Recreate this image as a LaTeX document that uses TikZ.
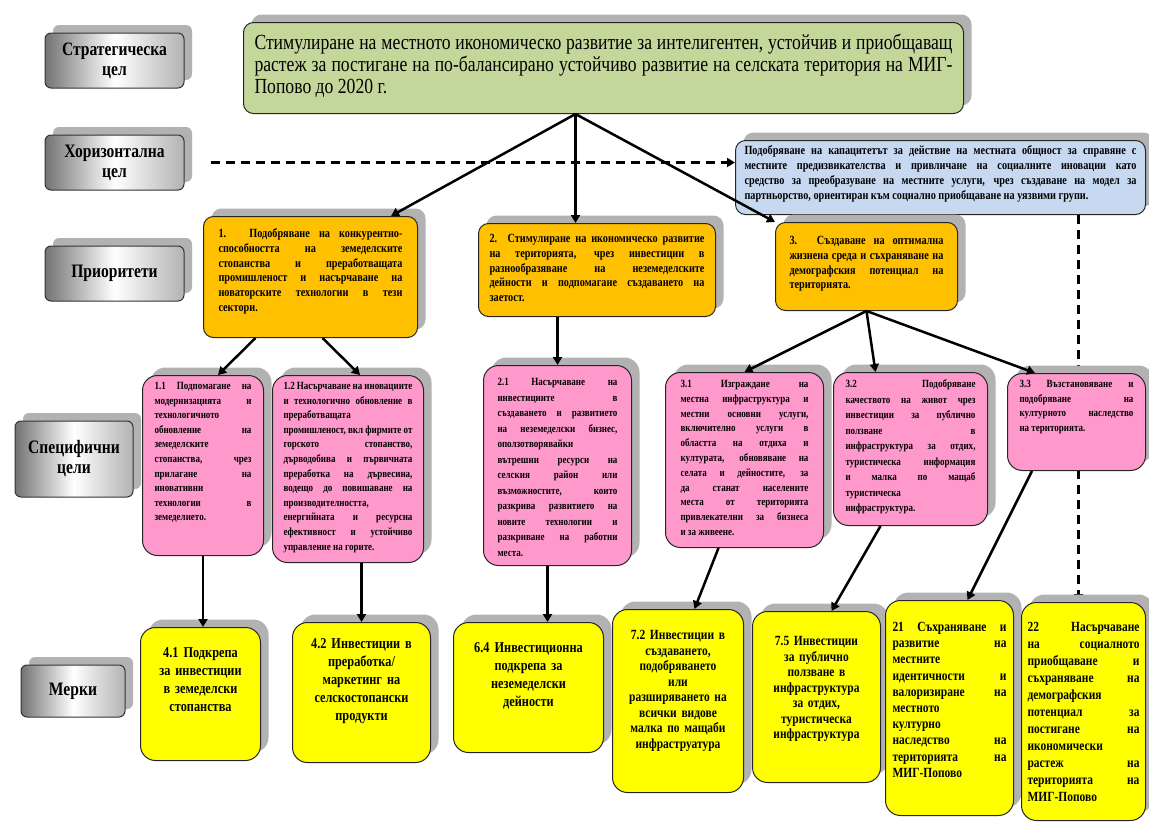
\documentclass[tikz,border=0pt]{standalone}
\usepackage{fontspec}
\setmainfont[FakeStretch=0.82]{Liberation Serif}
\usetikzlibrary{shadows,arrows.meta,backgrounds}
\tolerance=9999 \emergencystretch=8pt \hbadness=10000 \hfuzz=3pt

\definecolor{strgreen}{HTML}{C4D79B}
\definecolor{horblue}{HTML}{C6D9F1}
\definecolor{prorange}{HTML}{FFC000}
\definecolor{goalpink}{HTML}{FF99CC}
\definecolor{measyellow}{HTML}{FFFF00}

\tikzset{every picture/.style={line width=0.5pt}}
\tikzset{
  shade box/.style={general shadow={fill=black!30, shadow xshift=8pt, shadow yshift=8pt}},
  lbl/.style={shade box, draw=black!80, line width=1pt, rounded corners=6pt,
    left color=black!55, right color=black!30, middle color=white,
    minimum width=139pt, minimum height=55pt, align=center,
    font=\fontsize{19}{20}\selectfont\bfseries},
  card/.style={shade box, draw=black!85, line width=1pt, anchor=north west, inner ysep=0pt},
  strbox/.style={card, fill=strgreen, rounded corners=10pt, align=justify,
    font=\fontsize{21.5}{22}\selectfont},
  horbox/.style={card, fill=horblue, rounded corners=10pt, align=justify,
    font=\fontsize{12.5}{15}\selectfont\bfseries},
  prbox/.style={card, fill=prorange, rounded corners=10pt, align=justify,
    font=\fontsize{12.5}{14.8}\selectfont\bfseries},
  goalbox/.style={card, fill=goalpink, rounded corners=15pt, align=justify,
    font=\fontsize{11}{14.6}\selectfont\bfseries},
  measbox/.style={card, fill=measyellow, rounded corners=15pt, align=center,
    font=\fontsize{15}{18}\selectfont\bfseries},
  link/.style={line width=2.5pt, -{Triangle[length=8pt,width=9pt]}},
  dlink/.style={link, dash pattern=on 9pt off 6pt}
}

\begin{document}
\begin{tikzpicture}[x=1pt,y=1pt,yscale=-1]
    \useasboundingbox (0,0) rectangle (1149,827);

    % row labels
    \node[lbl] (lstrat) at (114.5,60.5) {Стратегическа\\цел};
    \node[lbl] (lhor) at (114.5,162.5) {Хоризонтална\\цел};
    \node[lbl] (lprior) at (114.5,273.5) {Приоритети};
    \node[lbl, minimum width=118pt, minimum height=76pt] (lspec) at (74,459) {Специфични\\цели};
    \node[lbl, minimum width=104pt, minimum height=52pt] (lmeas) at (73,691) {Мерки};

    % strategic and horizontal goal
    \node[strbox, text width=698pt, inner xsep=11pt, text height=27pt, text depth=64pt] (green) at (243,22)
      {Стимулиране на местното икономическо развитие за интелигентен, устойчив и приобщаващ\linebreak растеж за постигане на по-балансирано устойчиво развитие на селската територия на МИГ-\linebreak Попово до 2020 г.};
    \node[horbox, text width=392pt, inner xsep=9pt, text height=14pt, text depth=60pt] (blue) at (735,140)
      {Подобряване на капацитетът за действие на местната общност за справяне с\linebreak местните предизвикателства и привличане на социалните иновации като\linebreak средство за преобразуване на местните услуги, чрез създаване на модел за\linebreak партньорство, ориентиран към социално приобщаване на уязвими групи.};

    % priorities
    \node[prbox, text width=184pt, inner xsep=15pt, text height=21pt, text depth=100pt] (p1) at (203,216)
      {1. Подобряване на конкурентно-\linebreak способността на земеделските\linebreak стопанства и преработващата\linebreak промишленост и насърчаване на\linebreak новаторските технологии в тези\linebreak сектори.};
    \node[prbox, text width=215pt, inner xsep=11pt, text height=19pt, text depth=74pt] (p2) at (478,223)
      {2. Стимулиране на икономическо развитие\linebreak на територията, чрез инвестиции в\linebreak разнообразяване на неземеделските\linebreak дейности и подпомагане създаването на\linebreak заетост.};
    \node[prbox, text width=154pt, inner xsep=14pt, text height=22pt, text depth=66pt] (p3) at (775,222)
      {3. Създаване на оптимална\linebreak жизнена среда и съхраняване на\linebreak демографския потенциал на\linebreak територията.};

    % specific goals
    \node[goalbox, text width=97pt, inner xsep=12pt, text height=14pt, text depth=166pt] (s11) at (142,375)
      {1.1 Подпомагане на\linebreak модернизацията и\linebreak технологичното\linebreak обновление на\linebreak земеделските\linebreak стопанства, чрез\linebreak прилагане на\linebreak иновативни\linebreak технологии в\linebreak земеделието.};
    \node[goalbox, text width=129pt, inner xsep=11pt, text height=14pt, text depth=173pt] (s12) at (272,375)
      {1.2 Насърчаване на иновациите\linebreak и технологично обновление в\linebreak преработващата\linebreak промишленост, вкл фирмите от\linebreak горското стопанство,\linebreak дърводобива и първичната\linebreak преработка на дървесина,\linebreak водещо до повишаване на\linebreak производителността,\linebreak енергийната и ресурсна\linebreak ефективност и устойчиво\linebreak управление на горите.};
    \node[goalbox, font=\fontsize{11}{15.5}\selectfont\bfseries, text width=120pt, inner xsep=14pt, text height=20pt, text depth=180pt] (s21) at (483,365)
      {2.1 Насърчаване на\linebreak инвестициите в\linebreak създаването и развитието\linebreak на неземеделски бизнес,\linebreak оползотворявайки\linebreak вътрешни ресурси на\linebreak селския район или\linebreak възможностите, които\linebreak разкрива развитието на\linebreak новите технологии и\linebreak разкриване на работни\linebreak места.};
    \node[goalbox, font=\fontsize{11}{14.8}\selectfont\bfseries, text width=128pt, inner xsep=15pt, text height=15pt, text depth=160pt] (s31) at (665,372)
      {3.1 Изграждане на\linebreak местна инфраструктура и\linebreak местни основни услуги,\linebreak включително услуги в\linebreak областта на отдиха и\linebreak културата, обновяване на\linebreak селата и дейностите, за\linebreak да станат населените\linebreak места от територията\linebreak привлекателни за бизнеса\linebreak и за живеене.};
    \node[goalbox, font=\fontsize{11}{15.5}\selectfont\bfseries, text width=130pt, inner xsep=12pt, text height=15pt, text depth=138pt] (s32) at (833,372)
      {3.2 Подобряване\linebreak качеството на живот чрез\linebreak инвестиции за публично\linebreak ползване в\linebreak инфраструктура за отдих,\linebreak туристическа информация\linebreak и малка по мащаб\linebreak туристическа\linebreak инфраструктура.};
    \node[goalbox, text width=114pt, inner xsep=12pt, text height=14pt, text depth=83pt] (s33) at (1007,373)
      {3.3 Възстановяване и\linebreak подобряване на\linebreak културното наследство\linebreak на територията.};

    % measures
    \node[measbox, text width=100pt, inner xsep=10pt, text height=30pt, text depth=103pt] (m41) at (140,627)
      {4.1 Подкрепа\\за инвестиции\\в земеделски\\стопанства};
    \node[measbox, text width=118pt, inner xsep=10pt, text height=26pt, text depth=114pt] (m42) at (292,622)
      {4.2 Инвестиции в\\преработка/\\маркетинг на\\селскостопански\\продукти};
    \node[measbox, text width=130pt, inner xsep=10pt, text height=30pt, text depth=100pt] (m64) at (453,622)
      {6.4 Инвестиционна\\подкрепа за\\неземеделски\\дейности};
    \node[measbox, font=\fontsize{14}{15.5}\selectfont\bfseries, text width=115pt, inner xsep=8pt, text height=30pt, text depth=153pt] (m72) at (612,609)
      {7.2 Инвестиции в\\създаването,\\подобряването\\или\\разширяването на\\всички видове\\малка по мащаби\\инфраструатура};
    \node[measbox, font=\fontsize{14}{15.5}\selectfont\bfseries, text width=112pt, inner xsep=8pt, text height=34pt, text depth=137pt] (m75) at (752,611)
      {7.5 Инвестиции\\за публично\\ползване в\\инфраструктура\\за отдих,\\туристическа\\инфраструктура};
    \node[measbox, align=justify, font=\fontsize{14}{16.2}\selectfont\bfseries, text width=114pt, inner xsep=7pt, text height=31pt, text depth=184pt] (m21) at (885,600)
      {21 Съхраняване и\linebreak развитие на\linebreak местните\linebreak идентичности и\linebreak валоризиране на\linebreak местното\linebreak културно\linebreak наследство на\linebreak територията на\linebreak МИГ-Попово};
    \node[measbox, align=justify, font=\fontsize{14}{17}\selectfont\bfseries, text width=112pt, inner xsep=6pt, text height=29pt, text depth=189pt] (m22) at (1021,602)
      {22 Насърчаване\linebreak на социалното\linebreak приобщаване и\linebreak съхраняване на\linebreak демографския\linebreak потенциал за\linebreak постигане на\linebreak икономически\linebreak растеж на\linebreak територията на\linebreak МИГ-Попово};

    % connectors
    \draw[link] ([xshift=-28pt]green.south) -- ([xshift=-27pt]p1.north east);
    \draw[link] ([xshift=-28pt]green.south) -- ([xshift=-21.5pt]p2.north);
    \draw[link] ([xshift=-28pt]green.south) -- (p3.north west);
    \draw[dlink] ([xshift=26pt]lhor.east) -- (lhor.east -| blue.west);

    \draw[link] ([xshift=-55pt]p1.south) -- ([xshift=15pt]s11.north);
    \draw[link] ([xshift=12pt]p1.south) -- ([xshift=12pt]s12.north);
    \draw[link] ([xshift=-39.5pt]p2.south) -- (s21.north);
    \draw[link] (p3.south) -- (s31.north);
    \draw[link] (p3.south) -- ([xshift=-35pt]s32.north);
    \draw[link] (p3.south) -- ([xshift=28pt]s33.north west);

    \draw[link] (s11.south) -- (s11.south |- m41.north);
    \draw[link] (m42.north |- s12.south) -- (m42.north);
    \draw[link] ([xshift=-10pt]s21.south) -- ([xshift=-10pt]s21.south |- m64.north);
    \draw[link] ([xshift=-26pt]s31.south) -- ([xshift=16.5pt]m72.north);
    \draw[link] ([xshift=-30pt]s32.south) -- ([xshift=15pt]m75.north);
    \draw[link] ([xshift=25pt]s33.south west) -- ([xshift=18pt]m21.north);
    \begin{scope}[on background layer]
      \draw[dlink] ([xshift=-5pt]blue.south -| m22.north) -- ([xshift=-5pt]m22.north);
    \end{scope}
\end{tikzpicture}
\end{document}
